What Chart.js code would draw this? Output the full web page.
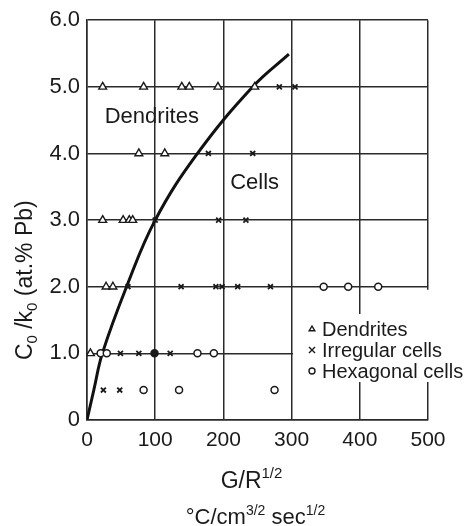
<!DOCTYPE html>
<html>
<head>
<meta charset="utf-8">
<script src="https://cdn.jsdelivr.net/npm/chart.js@4/dist/chart.umd.min.js"></script>
<style>
  html, body { margin: 0; padding: 0; background: #fff; }
  #wrap { width: 470px; height: 526px; }
</style>
</head>
<body>
<div id="wrap"><canvas id="c" width="470" height="526"></canvas></div>
<script>
// Dendrites (open triangles)
const dendriteX = [23, 83, 139, 150, 192, 246, 76, 114, 23, 53, 62, 67, 28, 38, 5];
const dendriteY = [5, 5, 5, 5, 5, 5, 4, 4, 3, 3, 3, 3, 2, 2, 1];

// Irregular cells (crosses)
const irregularX = [282, 305, 178, 243, 100, 193, 233, 60, 138, 189, 198, 221, 269, 49, 76, 122, 24, 48];
const irregularY = [5, 5, 4, 4, 3, 3, 3, 2, 2, 2, 2, 2, 2, 1, 1, 1, 0.45, 0.45];

// Hexagonal cells (open circles; one solid point at G/R^1/2 = 99)
const hexagonalX = [347, 383, 427, 20, 29, 99, 162, 186, 83, 135, 275];
const hexagonalY = [2, 2, 2, 1, 1, 1, 1, 1, 0.45, 0.45, 0.45];
const hexagonalSolid = [false, false, false, false, false, true, false, false, false, false, false];

// Dendrite / cell boundary curve
const boundaryX = [0, 10, 22.5, 58, 100, 162, 243, 296];
const boundaryY = [0, 0.45, 1, 2, 3, 4, 5, 5.49];

// Axis ticks
const xTicks = [0, 100, 200, 300, 400, 500];
const yTicks = [0, 1, 2, 3, 4, 5, 6];
const yTickLabels = ['0', '1.0', '2.0', '3.0', '4.0', '5.0', '6.0'];

const seriesNames = ['Dendrites', 'Irregular cells', 'Hexagonal cells'];

const FONT = "'Liberation Sans', Arial, Helvetica, sans-serif";
const INK = '#1a1a1a';

const zip = (xs, ys) => xs.map((x, i) => ({ x, y: ys[i] }));

// Rich text: segments of {t, pos: 'sup' | 'sub' | undefined}
function richWidth(ctx, parts, size) {
  let w = 0;
  for (const p of parts) {
    const s = p.pos ? Math.round(size * 0.65) : size;
    ctx.font = s + 'px ' + FONT;
    w += ctx.measureText(p.t).width;
  }
  return w;
}
function drawRich(ctx, parts, x, y, size) {
  // x is the left edge, y is the baseline
  let cx = x;
  for (const p of parts) {
    const s = p.pos ? Math.round(size * 0.65) : size;
    ctx.font = s + 'px ' + FONT;
    let dy = 0;
    if (p.pos === 'sup') dy = -size * 0.42;
    if (p.pos === 'sub') dy = size * 0.22;
    ctx.fillText(p.t, cx, y + dy);
    cx += ctx.measureText(p.t).width;
  }
}

function drawMarker(ctx, style, x, y, r) {
  ctx.beginPath();
  if (style === 'triangle') {
    ctx.moveTo(x, y - r);
    ctx.lineTo(x + r * 0.95, y + r * 0.6);
    ctx.lineTo(x - r * 0.95, y + r * 0.6);
    ctx.closePath();
    ctx.fillStyle = '#fff';
    ctx.fill();
    ctx.stroke();
  } else if (style === 'crossRot') {
    ctx.moveTo(x - r, y - r); ctx.lineTo(x + r, y + r);
    ctx.moveTo(x + r, y - r); ctx.lineTo(x - r, y + r);
    ctx.stroke();
  } else {
    ctx.arc(x, y, r, 0, Math.PI * 2);
    ctx.fillStyle = '#fff';
    ctx.fill();
    ctx.stroke();
  }
}

const annotations = {
  id: 'annotations',
  afterDatasetsDraw(chart) {
    const { ctx, chartArea: a, scales } = chart;
    ctx.save();
    ctx.fillStyle = INK;
    ctx.textBaseline = 'alphabetic';
    ctx.textAlign = 'left';

    // Region names inside the plot
    ctx.font = '22px ' + FONT;
    ctx.fillText('Dendrites', scales.x.getPixelForValue(26), scales.y.getPixelForValue(4.45));
    ctx.fillText('Cells', scales.x.getPixelForValue(210), scales.y.getPixelForValue(3.47));

    // Legend on a white panel over the lower right of the grid
    const bx = a.right - 135, by = a.bottom - 106;
    ctx.fillStyle = '#fff';
    ctx.fillRect(bx, by, 143, 68);
    // the panel also clears the right frame just below the 2.0 line
    const y2 = scales.y.getPixelForValue(2);
    ctx.fillRect(a.right - 8, y2 + 3, 16, by - y2);
    const styles = ['triangle', 'crossRot', 'circle'];
    const rows = [-91, -70, -49];
    ctx.strokeStyle = INK;
    ctx.lineWidth = 1.4;
    ctx.font = '20px ' + FONT;
    ctx.textBaseline = 'middle';
    seriesNames.forEach((name, i) => {
      const yy = a.bottom + rows[i];
      drawMarker(ctx, styles[i], a.right - 116, yy, 3);
      ctx.fillStyle = INK;
      ctx.fillText(name, a.right - 106, yy + 1);
    });
    ctx.restore();
  },
  afterDraw(chart) {
    const { ctx, chartArea: a } = chart;
    ctx.save();
    ctx.fillStyle = INK;
    ctx.textAlign = 'left';
    ctx.textBaseline = 'alphabetic';

    // X axis title, two lines
    const size = 23;
    const line1 = [{ t: 'G/R' }, { t: '1/2', pos: 'sup' }];
    const line2 = [{ t: '°C/cm' }, { t: '3/2', pos: 'sup' }, { t: ' sec' }, { t: '1/2', pos: 'sup' }];
    const cx = (a.left + a.right) / 2;
    const w1 = richWidth(ctx, line1, size);
    drawRich(ctx, line1, cx - 6 - w1 / 2, a.bottom + 68, size);
    const w2 = richWidth(ctx, line2, 22);
    drawRich(ctx, line2, cx - 2 - w2 / 2, a.bottom + 104, 22);

    // Y axis title, rotated
    const yl = [{ t: 'C' }, { t: '0', pos: 'sub' }, { t: ' /k' }, { t: '0', pos: 'sub' }, { t: ' (at.% Pb)' }];
    const ys = 23;
    const wy = richWidth(ctx, yl, ys);
    ctx.translate(32, a.top + 260);
    ctx.rotate(-Math.PI / 2);
    drawRich(ctx, yl, -wy / 2, 0, ys);
    ctx.restore();
  }
};

new Chart(document.getElementById('c'), {
  type: 'scatter',
  data: {
    datasets: [
      {
        label: seriesNames[0],
        data: zip(dendriteX, dendriteY),
        pointStyle: 'triangle',
        pointRadius: 4.5,
        pointBorderWidth: 1.4,
        borderColor: INK,
        backgroundColor: '#fff',
        pointBackgroundColor: '#fff'
      },
      {
        label: seriesNames[1],
        data: zip(irregularX, irregularY),
        pointStyle: 'crossRot',
        pointRadius: 3.5,
        pointBorderWidth: 1.8,
        borderColor: INK,
        backgroundColor: INK
      },
      {
        label: seriesNames[2],
        data: zip(hexagonalX, hexagonalY),
        pointStyle: 'circle',
        pointRadius: 3.5,
        pointBorderWidth: 1.5,
        borderColor: INK,
        pointBackgroundColor: hexagonalSolid.map(s => (s ? INK : '#fff'))
      },
      {
        label: 'boundary',
        data: zip(boundaryX, boundaryY),
        showLine: true,
        pointRadius: 0,
        borderColor: '#111',
        borderWidth: 3,
        tension: 0.4,
        fill: false
      }
    ]
  },
  options: {
    responsive: false,
    animation: false,
    devicePixelRatio: 1,
    layout: { padding: { top: 10, right: 42, left: 0, bottom: 0 } },
    plugins: {
      legend: { display: false },
      tooltip: { enabled: false }
    },
    scales: {
      x: {
        type: 'linear',
        min: 0,
        max: 500,
        afterBuildTicks(scale) { scale.ticks = xTicks.map(v => ({ value: v })); },
        afterFit(scale) { scale.height = 106; },
        ticks: {
          color: INK,
          padding: 8,
          font: { family: FONT, size: 21 },
          maxRotation: 0
        },
        grid: { color: '#2a2a2a', lineWidth: 1.5, drawTicks: false },
        border: { color: '#2a2a2a', width: 1.5 }
      },
      y: {
        type: 'linear',
        min: 0,
        max: 6,
        afterBuildTicks(scale) { scale.ticks = yTicks.map(v => ({ value: v })); },
        afterFit(scale) { scale.width = 87; },
        ticks: {
          color: INK,
          padding: 7,
          font: { family: FONT, size: 22 },
          callback: (v) => yTickLabels[yTicks.indexOf(v)]
        },
        grid: { color: '#2a2a2a', lineWidth: 1.5, drawTicks: false },
        border: { color: '#2a2a2a', width: 1.5 }
      }
    }
  },
  plugins: [annotations]
});
</script>
</body>
</html>
